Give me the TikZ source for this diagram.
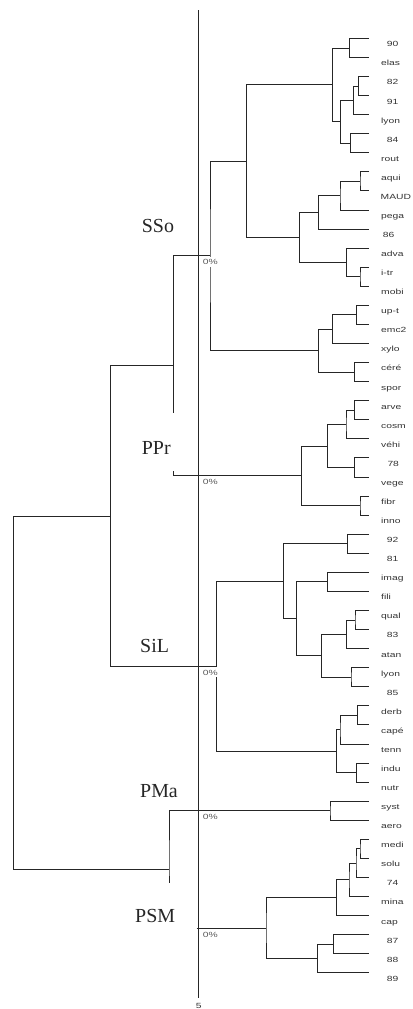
\documentclass[tikz,border=0pt]{standalone}
\usepackage{fontspec}
\setmainfont{Liberation Serif}
\newfontfamily\lsansfam{Liberation Sans}
\usepackage{graphicx}
\newcommand{\smalltxt}[1]{{\lsansfam\fontsize{7.5}{9}\selectfont\scalebox{1.38}[1]{#1}}}
\begin{document}
\begin{tikzpicture}[x=1bp,y=-1bp,
  br/.style={draw=black!85,line width=0.8bp},
  leaflab/.style={anchor=base west,inner sep=0pt,text=black!80},
  pct/.style={anchor=base west,fill=white,inner xsep=2bp,inner ysep=2bp,text height=6bp,text depth=0pt,text=black!65},
  grp/.style={anchor=base west,inner sep=0pt,font=\fontsize{20}{24}\selectfont,text=black!85}]
\useasboundingbox (0,0) rectangle (412,1009);

% leaves
\foreach \lab/\lx [count=\i from 0] in {90/386.7,elas/381,82/386.7,91/386.7,lyon/381,84/386.7,rout/381,
  aqui/381,MAUD/380.5,pega/381,86/382.7,adva/381,i-tr/381,mobi/381,
  up-t/381,emc2/381,xylo/381,céré/381,spor/381,
  arve/381,cosm/381,véhi/381,78/387.3,vege/381,fibr/381,inno/381,
  92/386.7,81/386.7,imag/381,fili/381,qual/381,83/386.7,atan/381,lyon/381,85/386.7,
  derb/381,capé/381,tenn/381,indu/381,nutr/381,syst/381,aero/381,
  medi/381,solu/381,74/386.7,mina/381,cap/381,87/386.7,88/386.7,89/386.7}{
  \coordinate (l\i) at (369,{38.3+19.07*\i});
  \node[leaflab] (t\i) at (\lx,{46.8+19.07*\i}) {\smalltxt{\lab}};
}

% internal nodes
\coordinate (n90e) at (349.3,47.9);
\coordinate (n8291) at (358.3,86.0);
\coordinate (n82l) at (353.3,100.3);
\coordinate (n84r) at (350.7,143.2);
\coordinate (n82r) at (340.7,121.7);
\coordinate (nTop) at (332.3,84.8);
\coordinate (naM) at (360,181.3);
\coordinate (naMp) at (340,195.7);
\coordinate (naM86) at (318.3,212.4);
\coordinate (nim) at (360,276.6);
\coordinate (nai) at (346.7,262.3);
\coordinate (nMid) at (299.3,237.3);
\coordinate (C1) at (246.7,161.1);
\coordinate (nue) at (356.7,314.8);
\coordinate (nuex) at (332.3,329.1);
\coordinate (ncs) at (354.3,372.0);
\coordinate (C2) at (318.3,350.6);
\coordinate (SSo) at (210,255.8);
\coordinate (nac) at (354.3,410.2);
\coordinate (nacv) at (346,424.5);
\coordinate (n78v) at (354.3,467.4);
\coordinate (nPl) at (327.7,446.0);
\coordinate (nfi) at (360,505.5);
\coordinate (PPr) at (301.7,475.8);
\coordinate (B) at (173.3,365.8);
\coordinate (Bg1) at (173.3,413.3);
\coordinate (Bg2) at (173.3,471);
\coordinate (n928) at (347.7,543.7);
\coordinate (nif) at (327.7,581.8);
\coordinate (nq8) at (355,619.9);
\coordinate (nq8a) at (346.7,634.2);
\coordinate (nl85) at (351,677.1);
\coordinate (nqal) at (321.7,655.7);
\coordinate (nifq) at (296.7,618.7);
\coordinate (S1) at (283.3,581.2);
\coordinate (ndc) at (357.7,715.3);
\coordinate (ndct) at (340,729.6);
\coordinate (nin) at (356.7,772.5);
\coordinate (S2) at (336.7,751.0);
\coordinate (SiL) at (216.7,666.1);
\coordinate (A) at (110.7,516.0);
\coordinate (PMa) at (330,810.6);
\coordinate (nms) at (360,848.8);
\coordinate (nms74) at (356,863.1);
\coordinate (nmsm) at (349,879.8);
\coordinate (nmsc) at (336.7,897.6);
\coordinate (n878) at (333.3,944.1);
\coordinate (n8789) at (317.3,958.4);
\coordinate (PSM) at (266,928.0);
\coordinate (PSMg) at (196.7,928.0);
\coordinate (PMP) at (169,869.3);
\coordinate (PMPg) at (169,882.7);
\coordinate (root) at (13.3,692.7);
\coordinate (axT) at (198.3,10);
\coordinate (axB) at (198.3,998);

% branches
\draw[br] (l0) -| (n90e) |- (l1);
\draw[br] (l2) -| (n8291) |- (l3);
\draw[br] (n8291) -| (n82l) |- (l4);
\draw[br] (l5) -| (n84r) |- (l6);
\draw[br] (n82l) -| (n82r) |- (n84r);
\draw[br] (n90e) -| (nTop) |- (n82r);
\draw[br] (l7) -| (naM) |- (l8);
\draw[br] (naM) -| (naMp) |- (l9);
\draw[br] (naMp) -| (naM86) |- (l10);
\draw[br] (l12) -| (nim) |- (l13);
\draw[br] (l11) -| (nai) |- (nim);
\draw[br] (naM86) -| (nMid) |- (nai);
\draw[br] (nTop) -| (C1) |- (nMid);
\draw[br] (l14) -| (nue) |- (l15);
\draw[br] (nue) -| (nuex) |- (l16);
\draw[br] (l17) -| (ncs) |- (l18);
\draw[br] (nuex) -| (C2) |- (ncs);
\draw[br] (C1) -| (SSo) |- (C2);
\draw[br] (l19) -| (nac) |- (l20);
\draw[br] (nac) -| (nacv) |- (l21);
\draw[br] (l22) -| (n78v) |- (l23);
\draw[br] (nacv) -| (nPl) |- (n78v);
\draw[br] (l24) -| (nfi) |- (l25);
\draw[br] (nPl) -| (PPr) |- (nfi);
\draw[br] (SSo) -| (B) -- (Bg1);
\draw[br] (Bg2) |- (PPr);
\draw[br] (l26) -| (n928) |- (l27);
\draw[br] (l28) -| (nif) |- (l29);
\draw[br] (l30) -| (nq8) |- (l31);
\draw[br] (nq8) -| (nq8a) |- (l32);
\draw[br] (l33) -| (nl85) |- (l34);
\draw[br] (nq8a) -| (nqal) |- (nl85);
\draw[br] (nif) -| (nifq) |- (nqal);
\draw[br] (n928) -| (S1) |- (nifq);
\draw[br] (l35) -| (ndc) |- (l36);
\draw[br] (ndc) -| (ndct) |- (l37);
\draw[br] (l38) -| (nin) |- (l39);
\draw[br] (ndct) -| (S2) |- (nin);
\draw[br] (S1) -| (SiL) |- (S2);
\draw[br] (B) -| (A) |- (SiL);
\draw[br] (l40) -| (PMa) |- (l41);
\draw[br] (l42) -| (nms) |- (l43);
\draw[br] (nms) -| (nms74) |- (l44);
\draw[br] (nms74) -| (nmsm) |- (l45);
\draw[br] (nmsm) -| (nmsc) |- (l46);
\draw[br] (l47) -| (n878) |- (l48);
\draw[br] (n878) -| (n8789) |- (l49);
\draw[br] (nmsc) -| (PSM) |- (n8789);
\draw[br] (PMa) -| (PMP) -- (PMPg);
\draw[br] (PSMg) -- (PSM);
\draw[br] (A) -| (root) |- (PMP);

% axis
\draw[br] (axT) -- (axB);
\node[anchor=base,inner sep=0pt,text=black!80] (five) at (198.8,1008) {\smalltxt{5}};

% percentages
\node[pct] (p1) at (200.7,264.8) {\smalltxt{0\%}};
\node[pct] (p2) at (200.7,484.8) {\smalltxt{0\%}};
\node[pct] (p3) at (200.7,675.1) {\smalltxt{0\%}};
\node[pct] (p4) at (200.7,819.6) {\smalltxt{0\%}};
\node[pct] (p5) at (200.7,937.0) {\smalltxt{0\%}};

% group labels
\node[grp] (gSSo) at (141.7,232.3) {SSo};
\node[grp] (gPPr) at (141.7,454) {PPr};
\node[grp] (gSiL) at (140,652.7) {SiL};
\node[grp] (gPMa) at (140,797.3) {PMa};
\node[grp] (gPSM) at (135,922.3) {PSM};
\end{tikzpicture}
\end{document}
